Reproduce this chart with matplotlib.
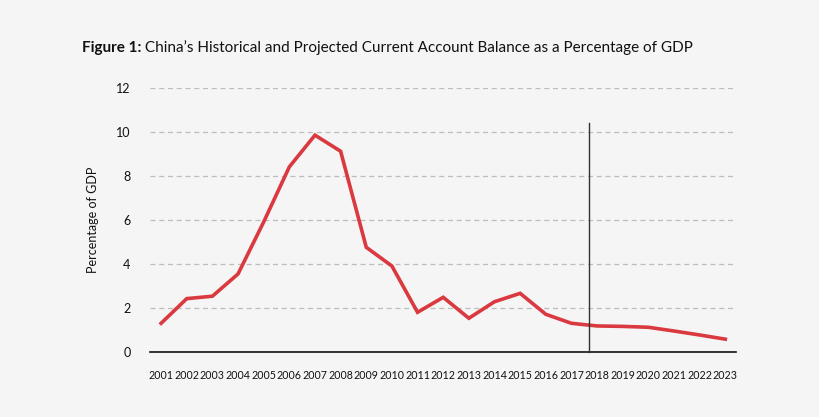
import matplotlib.pyplot as plt

# data
years = list(range(2001, 2024))
balance = [1.3, 2.42, 2.53, 3.54, 5.9, 8.4, 9.84, 9.11, 4.75, 3.9, 1.8, 2.48,
           1.53, 2.28, 2.66, 1.71, 1.30, 1.18, 1.16, 1.12, 0.95, 0.77, 0.58]
y_ticks = [0, 2, 4, 6, 8, 10, 12]
split_year = 2017.67   # historical / projected divider
split_top = 10.4

bg = '#f5f5f5'
red = '#d9393f'

plt.rcParams['font.family'] = ['Lato', 'DejaVu Sans']

fig = plt.figure(figsize=(8.2, 4.17), dpi=100, facecolor=bg)
ax = fig.add_axes([0.183, 0.156, 0.715, 0.634], facecolor=bg)

ax.plot(years, balance, color=red, lw=2.6, solid_joinstyle='miter', clip_on=False, zorder=3)
ax.plot([split_year, split_year], [0, split_top], color='#333333', lw=1.0, zorder=4, clip_on=False)

ax.set_xlim(2000.57, 2023.43)
ax.set_ylim(0, 12)
ax.set_yticks(y_ticks)
ax.set_xticks(years)
ax.set_xticklabels([str(y) for y in years], fontsize=7.7, color='#111111')
ax.set_yticklabels([str(t) for t in y_ticks], fontsize=9, color='#111111')
ax.tick_params(axis='x', length=0, pad=13)
ax.tick_params(axis='y', length=0, pad=14)

ax.yaxis.grid(True, ls=(0, (4, 3)), color='#bdbdbd', lw=0.9)
ax.set_axisbelow(True)
for s in ['top', 'right', 'left']:
    ax.spines[s].set_visible(False)
ax.spines['bottom'].set_color('#111111')
ax.spines['bottom'].set_linewidth(1.2)

ax.set_ylabel('Percentage of GDP', fontsize=9, color='#111111', labelpad=12)

t1 = fig.text(0.1, 0.876, 'Figure 1:', fontsize=11, fontweight='bold', color='#111111')
ax.annotate(" China\u2019s Historical and Projected Current Account Balance as a Percentage of GDP",
            xy=(1, 0), xycoords=t1, va='bottom', ha='left',
            fontsize=11, color='#111111', annotation_clip=False)

fig.savefig('out.png', dpi=100, facecolor=bg)
